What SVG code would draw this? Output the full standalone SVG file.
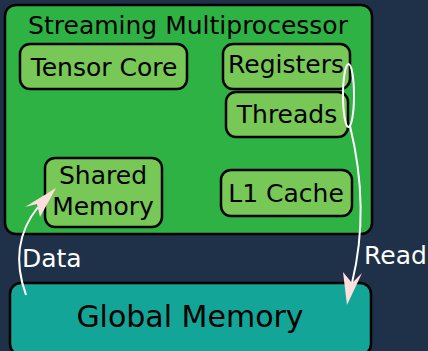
<svg xmlns="http://www.w3.org/2000/svg" width="428" height="351" viewBox="0 0 428 351">
<style>
text{font-family:"DejaVu Sans","Liberation Sans",sans-serif;}
.n{fill:#77c857;stroke:#000;stroke-width:2.5;}
.t{font-size:25px;fill:#000;text-anchor:middle;}
.lbl{font-size:25px;fill:#fff;}
.c{fill:none;stroke:#fff;stroke-width:2;}
.ah{fill:#ffdede;stroke:none;}
</style>
<rect x="0" y="0" width="428" height="351" fill="#1f3049"/>
<g id="sm">
<rect x="5" y="5" width="367" height="229" rx="11" fill="#2db243" stroke="#000" stroke-width="2.5"/>
<text class="t" x="188" y="34">Streaming Multiprocessor</text>
</g>
<g id="tensor">
<rect class="n" x="20" y="44" width="167" height="45" rx="10"/>
<text class="t" x="104" y="76">Tensor Core</text>
</g>
<g id="registers">
<rect class="n" x="223" y="44" width="127" height="45" rx="10"/>
<text class="t" x="286" y="73">Registers</text>
</g>
<g id="threads">
<rect class="n" x="226" y="92" width="122" height="45" rx="10"/>
<text class="t" x="287" y="123">Threads</text>
</g>
<g id="shared">
<rect class="n" x="45" y="158" width="117" height="69" rx="10"/>
<text class="t" x="103" y="184">Shared</text>
<text class="t" x="103" y="215">Memory</text>
</g>
<g id="l1">
<rect class="n" x="221" y="170" width="131" height="46" rx="10"/>
<text class="t" x="286" y="202">L1 Cache</text>
</g>
<g id="global">
<rect x="10" y="283" width="361" height="72" rx="11" fill="#13a597" stroke="#000" stroke-width="2.5"/>
<text x="190" y="327" font-size="30" fill="#000" text-anchor="middle">Global Memory</text>
</g>
<g id="connectors">
<path class="c" d="M26 295 C14 262 18 232 38 207"/>
<polygon class="ah" points="56,188 25,207 37,204 40,217"/>
<text class="lbl" x="22" y="267">Data</text>
<ellipse class="c" cx="348.5" cy="95.5" rx="5.5" ry="31.5"/>
<path class="c" d="M350 126 C362 175 365 230 352 283"/>
<polygon class="ah" points="347,305 343,272 352,283 362,273"/>
<text class="lbl" x="364" y="264">Read</text>
</g>
</svg>
